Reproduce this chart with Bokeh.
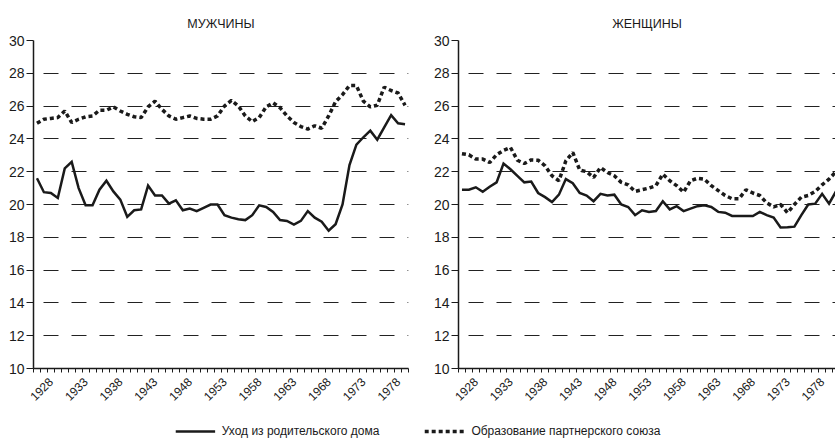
import math
from bokeh.plotting import figure
from bokeh.models import FixedTicker, Range1d, Legend, LegendItem
from bokeh.layouts import column, row
from bokeh.embed import file_html
from bokeh.resources import INLINE

# ---------------- data ----------------
years_men = list(range(1926, 1980))
years_women = list(range(1926, 1981))

men_leave = [21.6, 20.75, 20.7, 20.4, 22.2, 22.6, 21.0, 19.95, 19.95, 20.9,
             21.45, 20.8, 20.3, 19.25, 19.65, 19.7, 21.15, 20.55, 20.55, 20.05,
             20.25, 19.65, 19.75, 19.6, 19.8, 20.0, 20.0, 19.35, 19.2, 19.1,
             19.05, 19.35, 19.95, 19.85, 19.55, 19.05, 19.0, 18.78, 19.0, 19.6,
             19.2, 18.95, 18.4, 18.8, 20.0, 22.4, 23.65, 24.1, 24.5, 23.95,
             24.7, 25.45, 24.95, 24.9]
men_union = [24.95, 25.2, 25.25, 25.3, 25.7, 25.0, 25.2, 25.35, 25.4, 25.75,
             25.75, 25.95, 25.7, 25.5, 25.35, 25.3, 25.95, 26.3, 25.8, 25.4,
             25.2, 25.3, 25.4, 25.25, 25.2, 25.2, 25.4, 26.0, 26.35, 26.0,
             25.4, 25.05, 25.3, 25.95, 26.2, 25.9, 25.4, 25.0, 24.75, 24.6,
             24.8, 24.65, 25.4, 26.27, 26.7, 27.25, 27.25, 26.3, 25.95, 26.05,
             27.15, 26.95, 26.8, 26.05]
women_leave = [20.9, 20.9, 21.05, 20.78, 21.08, 21.35, 22.5, 22.15, 21.75, 21.35,
               21.4, 20.7, 20.45, 20.15, 20.6, 21.55, 21.3, 20.7, 20.55, 20.2,
               20.65, 20.55, 20.6, 20.0, 19.85, 19.35, 19.65, 19.55, 19.6, 20.2,
               19.7, 19.9, 19.6, 19.75, 19.9, 19.95, 19.85, 19.55, 19.5, 19.3,
               19.3, 19.3, 19.3, 19.55, 19.35, 19.2, 18.6, 18.62, 18.65, 19.35,
               20.0, 20.05, 20.65, 20.05, 20.8]
women_union = [23.1, 23.03, 22.77, 22.77, 22.56, 23.03, 23.3, 23.48, 22.7, 22.5,
               22.72, 22.7, 22.36, 21.75, 21.45, 22.66, 23.17, 22.1, 22.0, 21.65,
               22.26, 21.95, 21.75, 21.35, 21.2, 20.8, 20.9, 21.0, 21.15, 21.85,
               21.45, 21.15, 20.75, 21.45, 21.6, 21.55, 21.15, 20.85, 20.55, 20.35,
               20.35, 20.9, 20.7, 20.55, 20.1, 19.85, 20.0, 19.5, 20.0, 20.45,
               20.55, 20.8, 21.2, 21.55, 22.0]

tick_years = list(range(1928, 1979, 5))
y_ticks = list(range(10, 31, 2))
panel_titles = ["МУЖЧИНЫ", "ЖЕНЩИНЫ"]
legend_labels = ["Уход из родительского дома", "Образование партнерского союза"]

FONT = "Liberation Sans"
INK = "#1a1a1a"
PX_PER_YEAR = 375 / 54


def make_panel(title, years, leave, union, width, bl, br):
    frame_w = width - bl - br
    p = figure(width=width, height=408,
               x_range=Range1d(1925.5, 1925.5 + frame_w / PX_PER_YEAR),
               y_range=Range1d(10, 30),
               output_backend="svg", toolbar_location=None,
               min_border_left=bl, min_border_right=br,
               min_border_top=40, min_border_bottom=40)
    p.title.text = title
    p.title.align = "center"
    p.title.text_font = FONT
    p.title.text_font_size = "12.5px"
    p.title.text_font_style = "normal"
    p.title.text_color = INK
    p.title.standoff = 20
    p.outline_line_color = None

    # y axis
    p.yaxis.ticker = FixedTicker(ticks=y_ticks)
    p.yaxis.major_tick_out = 7
    p.yaxis.major_tick_in = 0
    p.yaxis.minor_tick_out = 0
    p.yaxis.minor_tick_in = 0
    p.yaxis.major_label_standoff = 2
    p.yaxis.major_label_text_font = FONT
    p.yaxis.major_label_text_font_size = "14px"
    p.yaxis.major_label_text_color = INK
    p.yaxis.axis_line_width = 1.5
    p.yaxis.axis_line_color = INK
    p.yaxis.major_tick_line_color = INK

    # x axis
    p.xaxis.ticker = FixedTicker(ticks=tick_years,
                                 minor_ticks=[y - 0.5 for y in range(1926, 1982)])
    p.xaxis.major_tick_out = 0
    p.xaxis.major_tick_in = 0
    p.xaxis.minor_tick_out = 4
    p.xaxis.minor_tick_in = 0
    p.xaxis.major_label_orientation = math.pi / 4
    p.xaxis.major_label_standoff = 7
    p.xaxis.major_label_text_font = FONT
    p.xaxis.major_label_text_font_size = "12px"
    p.xaxis.major_label_text_color = INK
    p.xaxis.axis_line_width = 1.5
    p.xaxis.axis_line_color = INK
    p.xaxis.minor_tick_line_color = INK

    # grid
    p.xgrid.visible = False
    p.ygrid.ticker = FixedTicker(ticks=[t for t in y_ticks if t > 10])
    p.ygrid.grid_line_color = "#222222"
    p.ygrid.grid_line_width = 1
    p.ygrid.grid_line_dash = "15 13"
    p.ygrid.grid_line_dash_offset = 18

    p.line(years, leave, line_color=INK, line_width=2.5, line_join="miter")
    p.line(years, union, line_color=INK, line_width=3.5, line_dash="4 3")
    return p


p1 = make_panel(panel_titles[0], years_men, men_leave, men_union, 430, 33, 22)
p2 = make_panel(panel_titles[1], years_women, women_leave, women_union, 405, 27, 0)

# legend strip
nan = float("nan")
p3 = figure(width=835, height=33, x_range=Range1d(0, 1), y_range=Range1d(0, 1),
            output_backend="svg", toolbar_location=None, min_border=0)
p3.axis.visible = False
p3.grid.visible = False
p3.outline_line_color = None
r1 = p3.line(x=[nan], y=[nan], line_color=INK, line_width=2.5)
r2 = p3.line(x=[nan], y=[nan], line_color=INK, line_width=3.5, line_dash="4 3")
legend = Legend(items=[LegendItem(label=legend_labels[0], renderers=[r1]),
                       LegendItem(label=legend_labels[1], renderers=[r2])],
                orientation="horizontal", location="bottom_center",
                border_line_color=None, background_fill_alpha=0,
                label_text_font=FONT, label_text_font_size="12px",
                label_text_color=INK, glyph_width=40, label_standoff=7,
                spacing=45, padding=0, margin=0)
p3.add_layout(legend, "center")

layout = column(row(p1, p2), p3)
open("out.html", "w").write(file_html(layout, INLINE))
